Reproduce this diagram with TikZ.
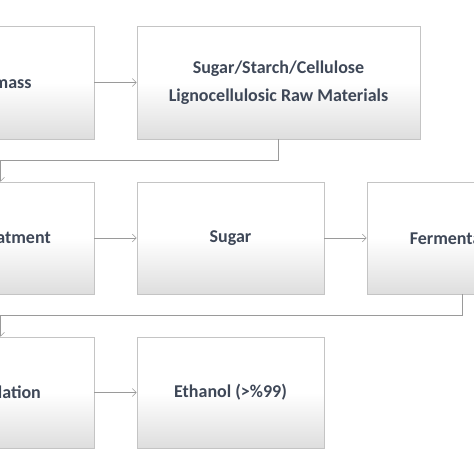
\documentclass[tikz,border=0pt]{standalone}
\usepackage{fontspec}
\setmainfont{Carlito}
\usetikzlibrary{arrows.meta,shadows,positioning}
\definecolor{txt}{HTML}{3E4757}
\definecolor{edge}{HTML}{C4C4C4}
\definecolor{conn}{HTML}{9A9A9A}
\tikzset{
  stepbox/.style={rectangle, draw=edge, line width=0.6pt, top color=white, bottom color=black!13, middle color=white,
    drop shadow={shadow xshift=1pt, shadow yshift=-1.5pt, opacity=0.35},
    text=txt, font=\fontsize{18}{28}\selectfont\bfseries, align=center, inner sep=0pt},
  flow/.style={draw=conn, line width=0.6pt, -{Straight Barb[length=4pt,width=8pt]}},
}
\begin{document}
\begin{tikzpicture}[x=1pt,y=1pt]
\useasboundingbox (0,0) rectangle (474,474);
\clip (0,0) rectangle (474,474);
% row 1
\node[stepbox, minimum width=187pt, minimum height=113pt] (bio) at (0.5,391.5) {Biomass};
\node[stepbox, minimum width=283pt, minimum height=113pt] (raw) at (278.5,391.5) {Sugar/Starch/Cellulose\\Lignocellulosic Raw Materials};
% row 2
\node[stepbox, minimum width=187pt, minimum height=112pt] (pre) at (0.5,236) {Pretreatment};
\node[stepbox, minimum width=187pt, minimum height=112pt] (sug) at (230.5,236) {Sugar};
\node[stepbox, minimum width=187pt, minimum height=112pt] (fer) at (460.5,236) {Fermentation};
% row 3
\node[stepbox, minimum width=187pt, minimum height=111pt] (dis) at (0.5,81.5) {Distillation};
\node[stepbox, minimum width=187pt, minimum height=111pt] (eth) at (230.5,81.5) {Ethanol (>\%99)};
% connectors
\draw[flow] (bio.east) -- (raw.west);
\draw[flow] (pre.east) -- (sug.west);
\draw[flow] (sug.east) -- (fer.west);
\draw[flow] (dis.east) -- (eth.west);
\coordinate (k1) at (278.5,314);
\coordinate (k2) at (0.5,314);
\draw[flow] (raw.south) -- (k1) -- (k2) -- (pre.north);
\coordinate (k3) at (462,159);
\coordinate (k4) at (0.5,159);
\draw[flow] (fer.south -| k3) -- (k3) -- (k4) -- (dis.north);
\end{tikzpicture}
\end{document}
